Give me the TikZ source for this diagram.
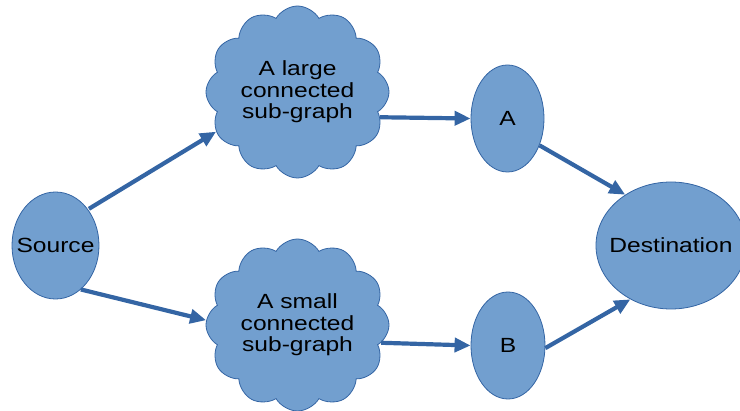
\documentclass[tikz,border=0pt]{standalone}
\usepackage{fontspec}
\setmainfont{Liberation Sans}[FakeStretch=1.2]
\usetikzlibrary{shapes.symbols,shapes.geometric,arrows.meta}
\definecolor{fillblue}{HTML}{729FCF}
\definecolor{lineblue}{HTML}{3465A4}
\begin{document}
\begin{tikzpicture}[x=1pt,y=-1pt,
  blob/.style={ellipse,draw=lineblue,fill=fillblue,line width=0.8pt,inner sep=0pt,
    font=\fontsize{20.5}{21.5}\selectfont},
  puffy/.style={cloud,cloud puffs=12,cloud puff arc=120,aspect=1.06,draw=lineblue,
    fill=fillblue,line width=0.8pt,inner sep=0pt,minimum width=183pt,minimum height=172pt,
    align=center,font=\fontsize{20.5}{21.5}\selectfont},
  link/.style={draw=lineblue,line width=4.2pt,-{Triangle[length=16pt,width=14pt]}}]
\useasboundingbox (0,0) rectangle (740,411);
\node[blob,minimum width=87pt,minimum height=107pt] (src) at (55.5,245.5) {\makebox[0pt]{Source}};
\node[puffy] (c1) at (297.5,92) {A large\\connected\\sub-graph};
\node[puffy] (c2) at (297.5,325) {A small\\connected\\sub-graph};
\node[blob,minimum width=73pt,minimum height=107pt] (a) at (507.5,118.5) {\makebox[0pt]{A}};
\node[blob,minimum width=74pt,minimum height=107pt] (b) at (508,345.5) {\makebox[0pt]{B}};
\node[blob,minimum width=150pt,minimum height=127pt] (dst) at (671,245.5) {\makebox[0pt]{Destination}};
\draw[link,shorten <=1pt] (src.48) -- (c1.206);
\draw[link] (src.-60) -- (c2.177);
\draw[link] (c1.-17) -- (a.180);
\draw[link] (c2.-12) -- (b.180);
\draw[link] (a.-40) -- (dst.132);
\draw[link] (b.-4) -- (dst.-127);
\end{tikzpicture}
\end{document}
